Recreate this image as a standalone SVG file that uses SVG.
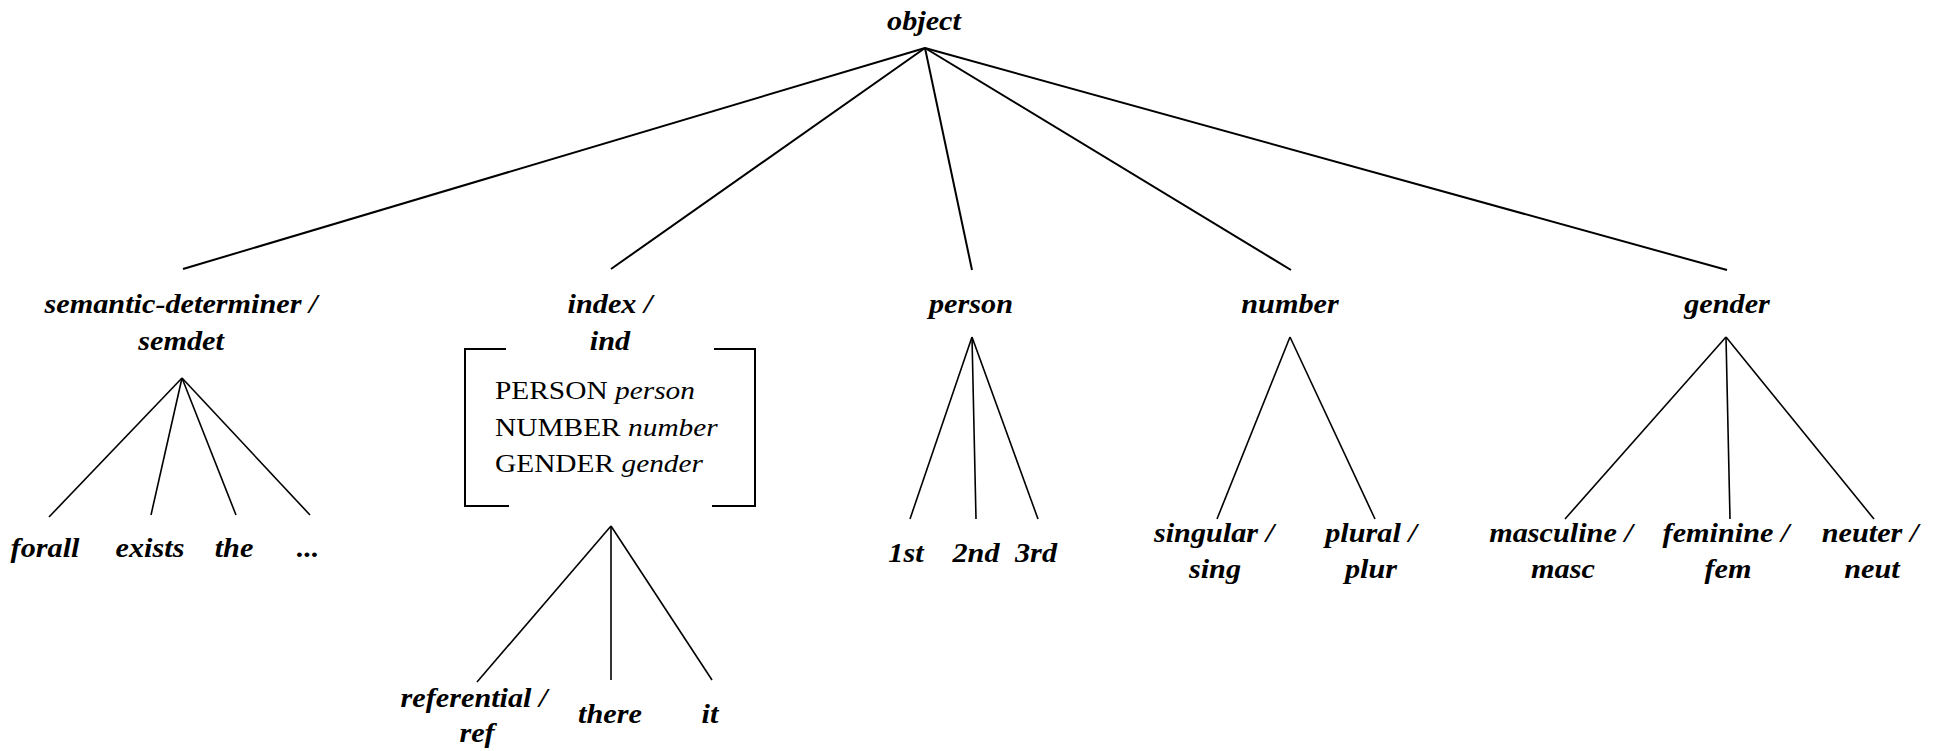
<svg xmlns="http://www.w3.org/2000/svg" width="1948" height="751" viewBox="0 0 1948 751">
<style>
.t{font-family:"Liberation Serif","Times New Roman",serif;font-size:27px;font-weight:bold;font-style:italic;fill:#000;text-anchor:middle}
.r{font-family:"Liberation Serif","Times New Roman",serif;font-size:26px;fill:#000}
.ri{font-style:italic}
.e1{stroke:#000;stroke-width:2;fill:none}
.e2{stroke:#000;stroke-width:1.6;fill:none}
.br{stroke:#000;stroke-width:2;fill:none}
</style>
<rect width="1948" height="751" fill="#fff"/>
<g id="connectors">
<line class="e1" x1="925" y1="48" x2="183" y2="269"/>
<line class="e1" x1="925" y1="48" x2="611" y2="269"/>
<line class="e1" x1="925" y1="48" x2="972" y2="270"/>
<line class="e1" x1="925" y1="48" x2="1291" y2="270"/>
<line class="e1" x1="925" y1="48" x2="1727" y2="270"/>
<line class="e2" x1="182" y1="378" x2="49" y2="517"/>
<line class="e2" x1="182" y1="378" x2="151" y2="515"/>
<line class="e2" x1="182" y1="378" x2="236" y2="515"/>
<line class="e2" x1="182" y1="378" x2="310" y2="515"/>
<line class="e2" x1="611" y1="526" x2="477" y2="682"/>
<line class="e2" x1="611" y1="526" x2="611" y2="680"/>
<line class="e2" x1="611" y1="526" x2="712" y2="680"/>
<line class="e2" x1="972" y1="337" x2="910" y2="519"/>
<line class="e2" x1="972" y1="337" x2="976" y2="519"/>
<line class="e2" x1="972" y1="337" x2="1038" y2="519"/>
<line class="e2" x1="1290" y1="337" x2="1217" y2="519"/>
<line class="e2" x1="1290" y1="337" x2="1375" y2="519"/>
<line class="e2" x1="1726" y1="337" x2="1565" y2="519"/>
<line class="e2" x1="1726" y1="337" x2="1730" y2="519"/>
<line class="e2" x1="1726" y1="337" x2="1874" y2="519"/>
</g>
<g id="object"><text class="t" transform="translate(924 30) scale(1.12 1)">object</text></g>
<g id="semdet">
<text class="t" transform="translate(181 313) scale(1.12 1)">semantic-determiner /</text>
<text class="t" transform="translate(181 350) scale(1.12 1)">semdet</text>
</g>
<g id="index">
<text class="t" transform="translate(610 313) scale(1.12 1)">index /</text>
<text class="t" transform="translate(610 350) scale(1.12 1)">ind</text>
<path class="br" d="M506 349H465V506H509M714 349H755V506H712"/>
<text class="r" transform="translate(495 399) scale(1.13 1)">PERSON <tspan class="ri">person</tspan></text>
<text class="r" transform="translate(495 436) scale(1.13 1)">NUMBER <tspan class="ri">number</tspan></text>
<text class="r" transform="translate(495 472) scale(1.13 1)">GENDER <tspan class="ri">gender</tspan></text>
</g>
<g id="person"><text class="t" transform="translate(971 313) scale(1.12 1)">person</text></g>
<g id="number"><text class="t" transform="translate(1290 313) scale(1.12 1)">number</text></g>
<g id="gender"><text class="t" transform="translate(1727 313) scale(1.12 1)">gender</text></g>
<g id="forall"><text class="t" transform="translate(45 557) scale(1.12 1)">forall</text></g>
<g id="exists"><text class="t" transform="translate(150 557) scale(1.12 1)">exists</text></g>
<g id="the"><text class="t" transform="translate(234 557) scale(1.12 1)">the</text></g>
<g id="etc"><text class="t" transform="translate(308 557) scale(1.12 1)">...</text></g>
<g id="referential">
<text class="t" transform="translate(474 707) scale(1.12 1)">referential /</text>
<text class="t" transform="translate(477 742) scale(1.12 1)">ref</text>
</g>
<g id="there"><text class="t" transform="translate(610 723) scale(1.12 1)">there</text></g>
<g id="it"><text class="t" transform="translate(710 723) scale(1.12 1)">it</text></g>
<g id="first"><text class="t" transform="translate(906 562) scale(1.12 1)">1st</text></g>
<g id="second"><text class="t" transform="translate(976 562) scale(1.12 1)">2nd</text></g>
<g id="third"><text class="t" transform="translate(1036 562) scale(1.12 1)">3rd</text></g>
<g id="singular">
<text class="t" transform="translate(1214 542) scale(1.12 1)">singular /</text>
<text class="t" transform="translate(1215 578) scale(1.12 1)">sing</text>
</g>
<g id="plural">
<text class="t" transform="translate(1371 542) scale(1.12 1)">plural /</text>
<text class="t" transform="translate(1371 578) scale(1.12 1)">plur</text>
</g>
<g id="masculine">
<text class="t" transform="translate(1561 542) scale(1.12 1)">masculine /</text>
<text class="t" transform="translate(1563 578) scale(1.12 1)">masc</text>
</g>
<g id="feminine">
<text class="t" transform="translate(1726 542) scale(1.12 1)">feminine /</text>
<text class="t" transform="translate(1728 578) scale(1.12 1)">fem</text>
</g>
<g id="neuter">
<text class="t" transform="translate(1870 542) scale(1.12 1)">neuter /</text>
<text class="t" transform="translate(1872 578) scale(1.12 1)">neut</text>
</g>
</svg>
